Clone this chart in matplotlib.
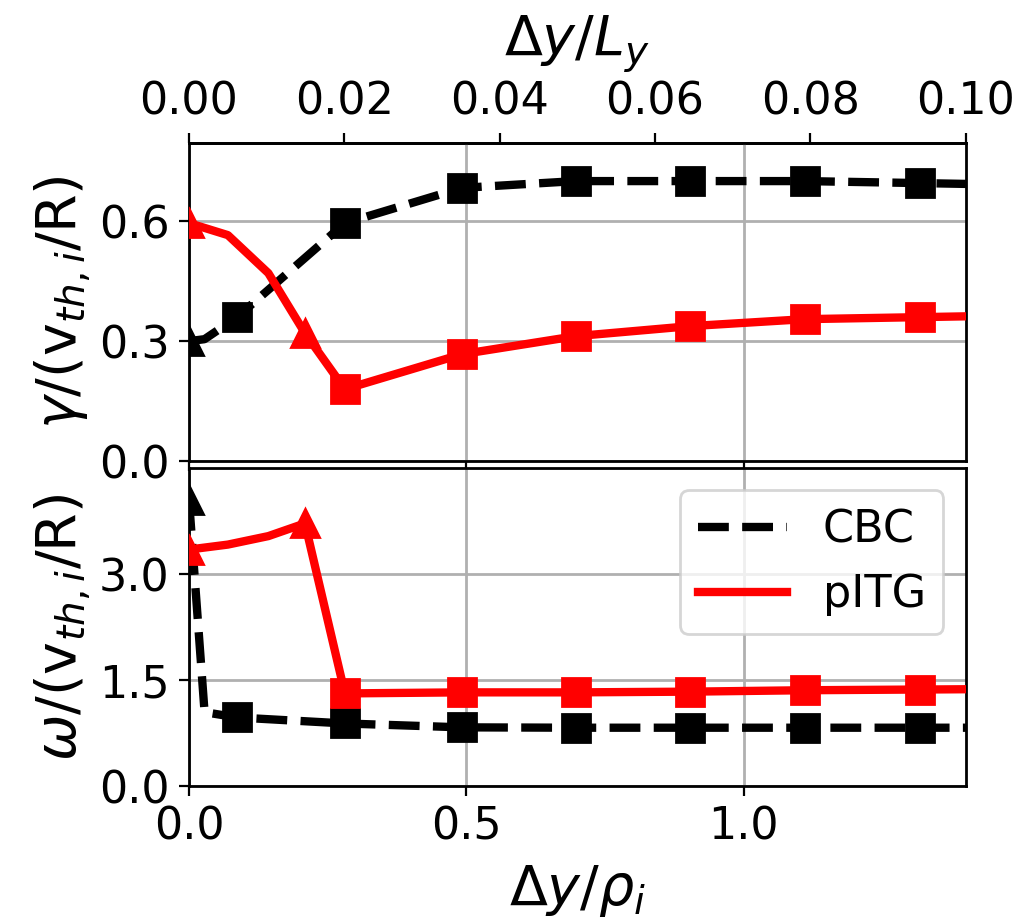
import matplotlib
matplotlib.use("Agg")
import matplotlib.pyplot as plt

# Delta y / rho_i positions and growth rates / frequencies
x_cbc = [0.0, 0.028, 0.0865, 0.281, 0.492, 0.697, 0.903, 1.11, 1.317, 1.52]
gamma_cbc = [0.30, 0.305, 0.36, 0.595, 0.683, 0.70, 0.70, 0.70, 0.695, 0.69]
omega_cbc = [4.05, 1.05, 0.975, 0.89, 0.835, 0.83, 0.83, 0.83, 0.83, 0.83]

x_pitg = [0.0, 0.07, 0.143, 0.209, 0.281, 0.492, 0.697, 0.903, 1.11, 1.317, 1.52]
gamma_pitg = [0.595, 0.565, 0.47, 0.32, 0.18, 0.2675, 0.3125, 0.3375, 0.355, 0.36, 0.365]
omega_pitg = [3.35, 3.42, 3.54, 3.72, 1.315, 1.33, 1.33, 1.34, 1.36, 1.37, 1.38]

# which points carry triangle / square markers
tri_cbc, sq_cbc = [0], [2, 3, 4, 5, 6, 7, 8]
tri_pitg, sq_pitg = [0, 3], [4, 5, 6, 7, 8, 9]

Ly = 14.0  # box length in units of rho_i

plt.rcParams['font.size'] = 16
plt.rcParams['axes.labelsize'] = 20
plt.rcParams['axes.linewidth'] = 1.0
plt.rcParams['grid.linewidth'] = 1.0
fig, (ax1, ax2) = plt.subplots(2, 1, sharex=True, figsize=(5.12, 4.615), dpi=200)
fig.subplots_adjust(left=0.1846, right=0.943, top=0.845, bottom=0.148, hspace=0.022)

lw, ms = 3, 10
for ax, yc, yp in [(ax1, gamma_cbc, gamma_pitg), (ax2, omega_cbc, omega_pitg)]:
    ax.plot(x_cbc, yc, 'k--', lw=lw, label='CBC', zorder=3)
    ax.plot(x_pitg, yp, 'r-', lw=lw, label='pITG', zorder=3)
    ax.plot([x_cbc[i] for i in tri_cbc], [yc[i] for i in tri_cbc], 'k^', ms=ms, zorder=4)
    ax.plot([x_cbc[i] for i in sq_cbc], [yc[i] for i in sq_cbc], 'ks', ms=ms, zorder=4)
    ax.plot([x_pitg[i] for i in tri_pitg], [yp[i] for i in tri_pitg], 'r^', ms=ms, zorder=4)
    ax.plot([x_pitg[i] for i in sq_pitg], [yp[i] for i in sq_pitg], 'rs', ms=ms, zorder=4)
    ax.grid(True)

ax1.set_xlim(0, 1.4)
ax1.set_ylim(0, 0.795)
ax1.set_yticks([0.0, 0.3, 0.6])
ax2.set_ylim(0, 4.5)
ax2.set_yticks([0.0, 1.5, 3.0])
ax2.set_xticks([0.0, 0.5, 1.0])

ax1.set_ylabel(r"$\gamma$/(v$_{th,i}$/R)", labelpad=2)
ax2.set_ylabel(r"$\omega$/(v$_{th,i}$/R)", labelpad=2)
ax2.set_xlabel(r"$\Delta y/\rho_i$", labelpad=5)

top = ax1.secondary_xaxis('top', functions=(lambda x: x / Ly, lambda x: x * Ly))
top.set_xticks([0.0, 0.02, 0.04, 0.06, 0.08, 0.10])
top.set_xlabel(r"$\Delta y/L_y$", labelpad=9)

ax2.legend(loc='upper right')

fig.savefig("out.png", dpi=200)
